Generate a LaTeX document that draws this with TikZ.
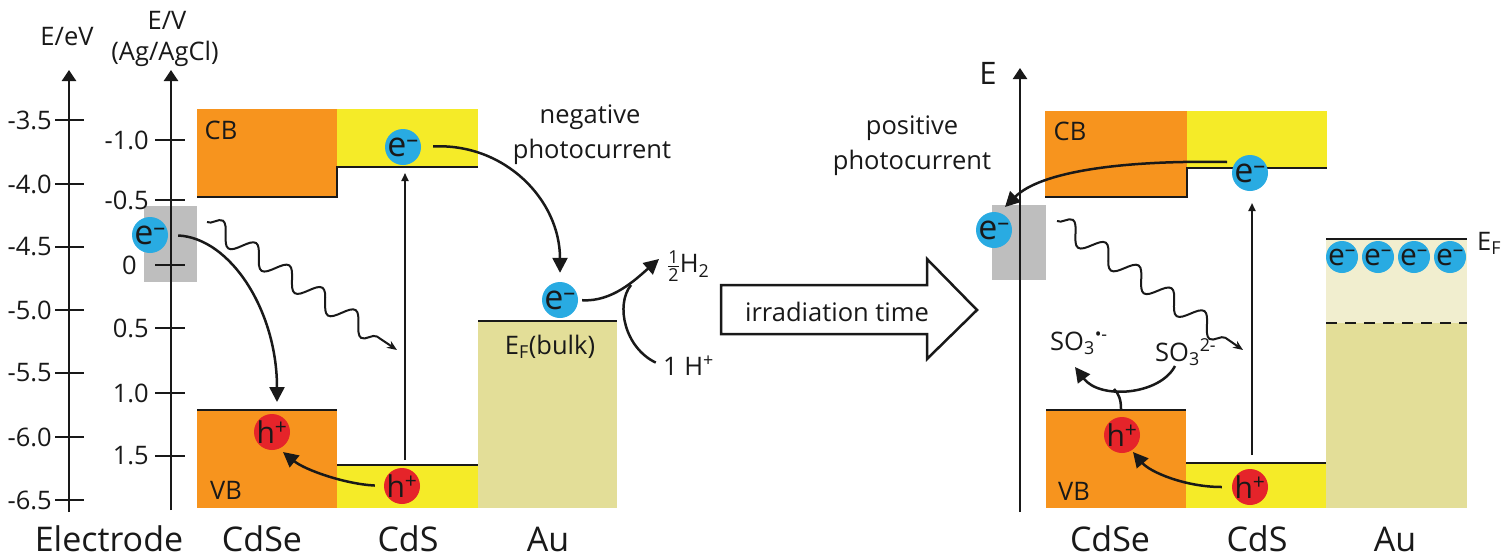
\documentclass[tikz,border=0pt]{standalone}
\usepackage{amsmath}
\usepackage{fontspec}
\setmainfont{Open Sans}
\usetikzlibrary{arrows.meta,decorations.pathmorphing}
\definecolor{orng}{RGB}{247,148,30}
\definecolor{ylw}{RGB}{245,235,40}
\definecolor{au}{RGB}{227,222,152}
\definecolor{aulight}{RGB}{241,238,207}
\definecolor{gry}{RGB}{190,190,190}
\definecolor{eblue}{RGB}{41,171,226}
\definecolor{hred}{RGB}{229,36,42}
\definecolor{txt}{RGB}{25,25,25}
\begin{document}
\begin{tikzpicture}[x=1pt,y=-1pt,
  lab/.style={font=\fontsize{25.5}{28}\selectfont, inner sep=0pt, text=txt},
  big/.style={font=\fontsize{34}{36}\selectfont, inner sep=0pt, text=txt, anchor=base},
  chg/.style={font=\fontsize{34}{36}\selectfont, inner sep=0pt, text=txt},
  chgh/.style={font=\fontsize{30}{32}\selectfont, inner sep=0pt, text=txt},
  chgs/.style={font=\fontsize{30}{32}\selectfont, inner sep=0pt, text=txt},
  ecirc/.style={circle, fill=eblue, minimum size=36pt, inner sep=0pt, label={[chg]center:e\textsuperscript{–}}},
  esmall/.style={circle, fill=eblue, minimum size=32pt, inner sep=0pt, label={[chgs]center:e\textsuperscript{–}}},
  hcirc/.style={circle, fill=hred, minimum size=36pt, inner sep=0pt, label={[chgh]center:h\textsuperscript{+}}},
  axisln/.style={line width=2.5pt, draw=txt, -{Triangle[length=11pt,width=14pt]}},
  tickln/.style={line width=2.5pt, draw=txt},
  band/.style={line width=2.8pt, draw=txt},
  carr/.style={line width=2.5pt, draw=txt, -{Triangle[length=15pt,width=15pt]}},
  plain/.style={line width=2.5pt, draw=txt},
  varr/.style={line width=1.8pt, draw=txt, -{Triangle[length=8pt,width=7pt]}},
  wavy/.style={line width=2pt, draw=txt, decorate, decoration={snake, segment length=40pt, amplitude=10pt, post length=10pt}, -{Stealth[length=10pt,width=8pt]}}
]
\useasboundingbox (0,0) rectangle (1501,558);
\fill[white] (0,0) rectangle (1501,558);

% ---------------- left panel fills
\fill[gry] (144,206) rectangle (197,282);
\fill[orng] (197,109) rectangle (337,197);
\fill[ylw] (337,109) rectangle (478,167);
\fill[orng] (197,410) rectangle (337,508);
\fill[ylw] (337,465) rectangle (478,508);
\fill[au] (478,321) rectangle (617,508);
\draw[band] (197,197) -- (337,197) -- (337,167) -- (478,167);
\draw[band] (197,410) -- (337,410);
\draw[band] (337,465) -- (478,465);
\draw[band] (478,321) -- (617,321);

% ---------------- axes
\coordinate (a1b) at (69,512); \coordinate (a1t) at (69,70);
\coordinate (a2b) at (171,510); \coordinate (a2t) at (171,70);
\draw[axisln] (a1b) -- (a1t);
\draw[axisln] (a2b) -- (a2t);
\foreach \v/\y in {-3.5/120,-4.0/184,-4.5/247,-5.0/310,-5.5/373,-6.0/437,-6.5/500}{
  \draw[tickln] (55,\y) -- (84,\y);
  \node[lab,anchor=east] (ev\y) at (52,\y) {\v};
}
\foreach \v/\y in {-1.0/140,-0.5/200,0.5/328,1.0/393,1.5/456}{
  \draw[tickln] (155,\y) -- (185,\y);
  \node[lab,anchor=east] (vv\y) at (149,\y) {\v};
}
\draw[tickln] (155,265) -- (185,265);
\node[lab,anchor=east] (vv0) at (137,265) {0};
\node[lab] (lev) at (67,37) {E/eV};
\node[lab] (lv) at (167,20) {E/V};
\node[lab] (lagcl) at (165,54) {(Ag/AgCl)};

% ---------------- left panel nodes
\node[lab] (cb1) at (221,130) {CB};
\node[lab] (vb1) at (226,490) {VB};
\node[ecirc] (e1) at (150,235) {};
\node[ecirc] (e2) at (403,147) {};
\node[ecirc] (e3) at (560,300) {};
\node[hcirc] (h1) at (272,432) {};
\node[hcirc] (h2) at (402,486) {};
\node[lab] (ef1) at (550,347) {E\textsubscript{F}(bulk)};
\node[lab] (neg1) at (590,117) {negative};
\node[lab] (neg2) at (592,152) {photocurrent};
\node[lab,anchor=west] (half) at (667,266) {$\tfrac{\text{1}}{\text{2}}$H\textsubscript{2}};
\node[lab,anchor=west] (hp) at (663,366) {1 H\textsuperscript{+}};

% ---------------- left panel connectors
\coordinate (t1) at (277,402);
\draw[carr, shorten <=10pt] (e1.east) .. controls (230,238) and (277,310) .. (t1);
\draw[carr, shorten <=12pt, shorten >=9pt] (e2.east) .. controls (505,143) and (560,200) .. (e3.north);
\coordinate (t3) at (659,259);
\draw[carr, shorten <=4pt] (e3.east) .. controls (612,302) and (635,280) .. (t3);
\coordinate (m4) at (631,285);
\draw[plain, shorten <=8pt] (hp.west) .. controls (625,348) and (615,305) .. (m4);
\coordinate (t5) at (283,452);
\draw[carr, shorten <=9pt] (h2.west) .. controls (345,484) and (305,470) .. (t5);
\coordinate (v1s) at (405,460); \coordinate (v1e) at (405,173);
\draw[varr] (v1s) -- (v1e);
\coordinate (w1s) at (207,222); \coordinate (w1e) at (397,350);
\draw[wavy] (w1s) -- (w1e);

% ---------------- bottom labels
\node[big] (lel) at (109,551) {Electrode};
\node[big] (lcdse1) at (262,551) {CdSe};
\node[big] (lcds1) at (408,551) {CdS};
\node[big] (lau1) at (548,551) {Au};
\node[big] (lcdse2) at (1110,551) {CdSe};
\node[big] (lcds2) at (1257,551) {CdS};
\node[big] (lau2) at (1395,551) {Au};

% ---------------- big arrow
\draw[line width=2.5pt, draw=txt, fill=white, line join=miter] (721,285) -- (927,285) -- (927,259) -- (977,310) -- (927,359) -- (927,334) -- (721,334) -- cycle;
\node[lab] (irr) at (837,312) {irradiation time};

% ---------------- right panel fills
\fill[gry] (992,205) rectangle (1046,280);
\fill[orng] (1045,111) rectangle (1187,197);
\fill[ylw] (1187,111) rectangle (1327,168);
\fill[orng] (1046,410) rectangle (1186,508);
\fill[ylw] (1186,463) rectangle (1326,508);
\fill[aulight] (1326,239) rectangle (1467,323);
\fill[au] (1326,323) rectangle (1467,508);
\draw[band] (1045,197) -- (1187,197) -- (1187,168) -- (1327,168);
\draw[band] (1046,410) -- (1186,410);
\draw[band] (1186,463) -- (1326,463);
\draw[band] (1326,239) -- (1467,239);
\draw[line width=2.5pt, draw=txt, dash pattern=on 11pt off 8pt] (1326,323) -- (1467,323);

\coordinate (a3b) at (1020,512); \coordinate (a3t) at (1020,68);
\draw[axisln] (a3b) -- (a3t);
\node[lab, font=\fontsize{31}{33}\selectfont] (le) at (988,73) {E};

\node[lab] (cb2) at (1070,131) {CB};
\node[lab] (vb2) at (1074,491) {VB};
\node[lab] (pos1) at (912,128) {positive};
\node[lab] (pos2) at (912,163) {photocurrent};
\node[ecirc] (e4) at (994,230) {};
\node[ecirc] (e5) at (1250,173) {};
\node[hcirc] (h3) at (1122,435) {};
\node[hcirc] (h4) at (1250,487) {};
\node[esmall] (e6) at (1342,257) {};
\node[esmall] (e7) at (1378,257) {};
\node[esmall] (e8) at (1414,257) {};
\node[esmall] (e9) at (1450,257) {};
\node[lab, anchor=base west] (ef2) at (1477,250) {E\textsubscript{F}};
\node[lab, anchor=base west] (so3r) at (1050,350) {SO\textsubscript{3}\textsuperscript{•-}};
\node[lab, anchor=base west] (so3) at (1155,361) {SO\textsubscript{3}\textsuperscript{2-}};

% ---------------- right panel connectors
\coordinate (s6) at (1227,162); \coordinate (t6) at (1005,207);
\draw[carr] (s6) .. controls (1120,160) and (1040,172) .. (t6);
\coordinate (t7) at (1133,452);
\draw[carr, shorten <=10pt] (h4.west) .. controls (1185,487) and (1150,472) .. (t7);
\coordinate (s8) at (1175,366); \coordinate (t8) at (1075,367);
\draw[carr] (s8) .. controls (1160,395) and (1100,400) .. (t8);
\coordinate (b8) at (1121,409); \coordinate (m8) at (1114,389);
\draw[plain] (b8) .. controls (1121,400) and (1119,394) .. (m8);
\coordinate (v2s) at (1252,455); \coordinate (v2e) at (1252,203);
\draw[varr] (v2s) -- (v2e);
\coordinate (w2s) at (1057,221); \coordinate (w2e) at (1243,350);
\draw[wavy] (w2s) -- (w2e);
\end{tikzpicture}
\end{document}
